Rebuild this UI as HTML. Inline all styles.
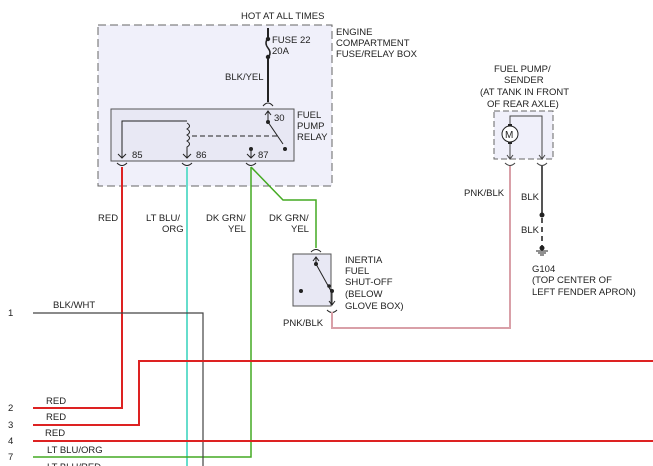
<!DOCTYPE html>
<html><head><style>body{margin:0;background:#fff}svg{display:block}text{font-family:"Liberation Sans",sans-serif;font-size:9.5px;fill:#222}</style></head><body>
<svg width="653" height="466" viewBox="0 0 653 466">
<rect x="98" y="25" width="234" height="161" fill="#f0f0fa" stroke="#666" stroke-dasharray="8,4"/>
<rect x="111" y="109" width="183" height="52" fill="#e8e8f4" stroke="#555"/>
<text x="241" y="19">HOT AT ALL TIMES</text>
<text x="336" y="35">ENGINE</text><text x="336" y="46">COMPARTMENT</text><text x="336" y="57">FUSE/RELAY BOX</text>
<line x1="268" y1="28" x2="268" y2="38" stroke="#222" stroke-width="2"/>
<path d="M268 38 q-4 5 0 10 q4 5 0 10" fill="none" stroke="#222" stroke-width="1.5"/>
<line x1="268" y1="58" x2="268" y2="102" stroke="#222" stroke-width="2"/>
<circle cx="268" cy="39" r="2.2" fill="#222"/><circle cx="268" cy="57" r="2.2" fill="#222"/>
<text x="272" y="43">FUSE 22</text><text x="272" y="54">20A</text>
<text x="225" y="80">BLK/YEL</text>
<path d="M263 106 q5 -6 10 0" fill="none" stroke="#222"/>
<path d="M265 115 l3 -4 l3 4 M268 111 v10" fill="none" stroke="#222"/>
<circle cx="268" cy="122" r="2" fill="#222"/><line x1="268" y1="122" x2="283" y2="144" stroke="#222"/>
<circle cx="285" cy="149" r="2" fill="#222"/>
<text x="274" y="121">30</text>
<text x="297" y="118">FUEL</text><text x="297" y="129">PUMP</text><text x="297" y="140">RELAY</text>
<path d="M122 158 V121 H187" fill="none" stroke="#222"/>
<path d="M187 123 q5 3 0 6 q5 3 0 6 q5 3 0 6 q5 3 0 6 V158" fill="none" stroke="#222"/>
<line x1="192" y1="136" x2="280" y2="136" stroke="#222" stroke-dasharray="5,3"/>
<circle cx="251" cy="149" r="2" fill="#222"/><line x1="251" y1="149" x2="251" y2="158"/>
<line x1="251" y1="149" x2="251" y2="158" stroke="#222"/>
<g fill="none" stroke="#222"><path d="M118 154 l4 4 l4 -4"/><path d="M183 154 l4 4 l4 -4"/><path d="M247 154 l4 4 l4 -4"/>
<path d="M117 163 q5 5 10 0"/><path d="M182 163 q5 5 10 0"/><path d="M246 163 q5 5 10 0"/></g>
<text x="132" y="158">85</text><text x="196" y="158">86</text><text x="258" y="158">87</text>
<path d="M122 167 V408 H33" fill="none" stroke="#d22" stroke-width="2"/>
<line x1="187" y1="167" x2="187" y2="466" stroke="#6dc" stroke-width="2"/>
<path d="M251 167 V457 H33" fill="none" stroke="#4a2" stroke-width="1.5"/>
<path d="M251 167 L283 200 H316 V248" fill="none" stroke="#4a2" stroke-width="1.5"/>
<text x="98" y="221">RED</text>
<text x="146" y="221">LT BLU/</text><text x="162" y="232">ORG</text>
<text x="206" y="221">DK GRN/</text><text x="228" y="232">YEL</text>
<text x="269" y="221">DK GRN/</text><text x="291" y="232">YEL</text>
<path d="M311 252 q5 -5 10 0" fill="none" stroke="#222"/>
<rect x="293" y="254" width="38" height="52" fill="#e8e8f4" stroke="#555"/>
<path d="M313 261 l3 -4 l3 4 M316 257 v6" fill="none" stroke="#222"/>
<circle cx="316" cy="264" r="2" fill="#222"/><line x1="316" y1="264" x2="331" y2="291" stroke="#222"/>
<circle cx="329" cy="286" r="1.8" fill="#222"/><circle cx="332" cy="291" r="2" fill="#222"/>
<circle cx="301" cy="291" r="2" fill="#222"/>
<path d="M332 291 V305 M329 301 l3 4 l3 -4" fill="none" stroke="#222"/>
<path d="M327 310 q5 5 10 0" fill="none" stroke="#222"/>
<text x="345" y="263">INERTIA</text><text x="345" y="274">FUEL</text><text x="345" y="285">SHUT-OFF</text><text x="345" y="297">(BELOW</text><text x="345" y="309">GLOVE BOX)</text>
<text x="283" y="326">PNK/BLK</text>
<path d="M332 312 V328 H510 V166" fill="none" stroke="#d9a0a8" stroke-width="2"/>
<text x="494" y="72">FUEL PUMP/</text><text x="504" y="83">SENDER</text><text x="480" y="95">(AT TANK IN FRONT</text><text x="487" y="107">OF REAR AXLE)</text>
<rect x="494" y="111" width="59" height="48" fill="#f0f0fa" stroke="#666" stroke-dasharray="6,3"/>
<path d="M510 125 V116 H542 V159 M539 155 l3 4 l3 -4" fill="none" stroke="#444"/>
<circle cx="510" cy="134" r="8" fill="#fff" stroke="#222"/>
<text x="505" y="138" style="font-size:10px">M</text>
<rect x="508" y="124" width="4" height="2" fill="#222"/><rect x="508" y="142" width="4" height="2" fill="#222"/>
<path d="M510 144 V159 M507 155 l3 4 l3 -4" fill="none" stroke="#444"/>
<path d="M505 163 q5 5 10 0 M537 163 q5 5 10 0" fill="none" stroke="#444"/>
<line x1="542" y1="166" x2="542" y2="215" stroke="#555" stroke-width="2"/>
<circle cx="542" cy="215" r="2.5" fill="#222"/>
<line x1="542" y1="218" x2="542" y2="246" stroke="#555" stroke-width="2" stroke-dasharray="5,4"/>
<circle cx="542" cy="248" r="2.5" fill="#222"/>
<line x1="536" y1="251" x2="548" y2="251" stroke="#222"/><line x1="538" y1="253" x2="546" y2="253" stroke="#222"/><line x1="540" y1="255" x2="544" y2="255" stroke="#222"/>
<text x="464" y="196">PNK/BLK</text><text x="521" y="200">BLK</text><text x="521" y="233">BLK</text>
<text x="532" y="272">G104</text><text x="532" y="283">(TOP CENTER OF</text><text x="532" y="295">LEFT FENDER APRON)</text>
<path d="M33 313 H203 V466" fill="none" stroke="#444" stroke-width="1.2"/>
<path d="M33 425 H139 V361 H653" fill="none" stroke="#d22" stroke-width="2"/>
<line x1="33" y1="441" x2="653" y2="441" stroke="#d22" stroke-width="2"/>
<text x="8" y="316">1</text><text x="53" y="308">BLK/WHT</text>
<text x="8" y="411">2</text><text x="46" y="404">RED</text>
<text x="8" y="428">3</text><text x="46" y="420">RED</text>
<text x="8" y="444">4</text><text x="45" y="436">RED</text>
<text x="8" y="460">7</text><text x="47" y="453">LT BLU/ORG</text>
<text x="47" y="470">LT BLU/RED</text>
</svg></body></html>
